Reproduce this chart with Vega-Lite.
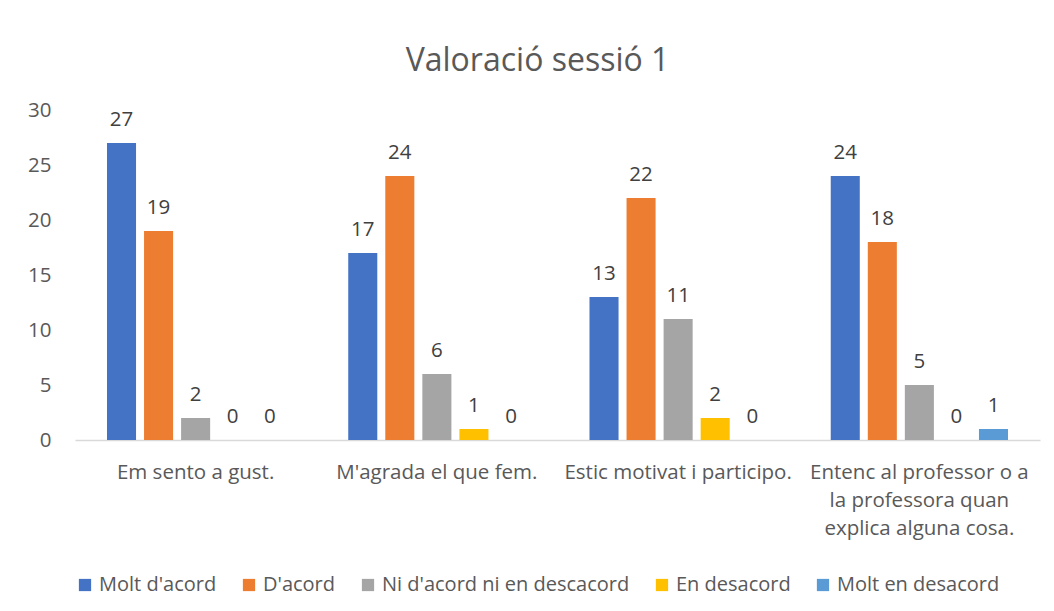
{
  "$schema": "https://vega.github.io/schema/vega-lite/v6.json",
  "width": 965,
  "height": 330,
  "autosize": {"type": "none"},
  "padding": {"left": 75, "top": 110, "right": 14, "bottom": 171},
  "background": "white",
  "config": {"view": {"stroke": null}},
  "title": {
    "text": "Valoració sessió 1",
    "fontSize": 32,
    "font": "Open Sans",
    "fontWeight": "normal",
    "color": "#595959",
    "anchor": "middle",
    "offset": 22,
    "dx": -20
  },
  "data": {
    "values": [
      {"cat": "Em sento a gust.", "serie": "Molt d'acord", "v": 27},
      {"cat": "Em sento a gust.", "serie": "D'acord", "v": 19},
      {"cat": "Em sento a gust.", "serie": "Ni d'acord ni en descacord", "v": 2},
      {"cat": "Em sento a gust.", "serie": "En desacord", "v": 0},
      {"cat": "Em sento a gust.", "serie": "Molt en desacord", "v": 0},
      {"cat": "M'agrada el que fem.", "serie": "Molt d'acord", "v": 17},
      {"cat": "M'agrada el que fem.", "serie": "D'acord", "v": 24},
      {"cat": "M'agrada el que fem.", "serie": "Ni d'acord ni en descacord", "v": 6},
      {"cat": "M'agrada el que fem.", "serie": "En desacord", "v": 1},
      {"cat": "M'agrada el que fem.", "serie": "Molt en desacord", "v": 0},
      {"cat": "Estic motivat i participo.", "serie": "Molt d'acord", "v": 13},
      {"cat": "Estic motivat i participo.", "serie": "D'acord", "v": 22},
      {"cat": "Estic motivat i participo.", "serie": "Ni d'acord ni en descacord", "v": 11},
      {"cat": "Estic motivat i participo.", "serie": "En desacord", "v": 2},
      {"cat": "Estic motivat i participo.", "serie": "Molt en desacord", "v": 0},
      {"cat": "Entenc al professor o a la professora quan explica alguna cosa.", "serie": "Molt d'acord", "v": 24},
      {"cat": "Entenc al professor o a la professora quan explica alguna cosa.", "serie": "D'acord", "v": 18},
      {"cat": "Entenc al professor o a la professora quan explica alguna cosa.", "serie": "Ni d'acord ni en descacord", "v": 5},
      {"cat": "Entenc al professor o a la professora quan explica alguna cosa.", "serie": "En desacord", "v": 0},
      {"cat": "Entenc al professor o a la professora quan explica alguna cosa.", "serie": "Molt en desacord", "v": 1}
    ]
  },
  "encoding": {
    "x": {
      "field": "cat",
      "type": "nominal",
      "sort": null,
      "title": null,
      "scale": {"paddingInner": 0.232, "paddingOuter": 0.116},
      "axis": {
        "labelAngle": 0,
        "labelFont": "Open Sans",
        "labelFontSize": 20.5,
        "labelColor": "#595959",
        "labelPadding": 22,
        "labelLineHeight": 28,
        "labelBaseline": "top",
        "labelLimit": 400,
        "ticks": false,
        "domainColor": "#D9D9D9",
        "domainWidth": 1.5,
        "labelExpr": "datum.value == 'Entenc al professor o a la professora quan explica alguna cosa.' ? ['Entenc al professor o a', 'la professora quan', 'explica alguna cosa.'] : datum.value"
      }
    },
    "xOffset": {
      "field": "serie",
      "type": "nominal",
      "sort": ["Molt d'acord", "D'acord", "Ni d'acord ni en descacord", "En desacord", "Molt en desacord"],
      "scale": {"paddingInner": 0.216, "paddingOuter": 0.108}
    },
    "y": {
      "field": "v",
      "type": "quantitative",
      "title": null,
      "scale": {"domain": [0, 30]},
      "axis": {
        "values": [0, 5, 10, 15, 20, 25, 30],
        "grid": false,
        "domain": false,
        "ticks": false,
        "labelFont": "Open Sans",
        "labelFontSize": 20.5,
        "labelColor": "#595959",
        "labelPadding": 24
      }
    }
  },
  "layer": [
    {
      "mark": {"type": "bar"},
      "encoding": {
        "color": {
          "field": "serie",
          "type": "nominal",
          "title": null,
          "scale": {
            "domain": ["Molt d'acord", "D'acord", "Ni d'acord ni en descacord", "En desacord", "Molt en desacord"],
            "range": ["#4472C4", "#ED7D31", "#A5A5A5", "#FFC000", "#5B9BD5"]
          },
          "legend": {
            "orient": "bottom",
            "direction": "horizontal",
            "symbolType": "square",
            "symbolSize": 150,
            "symbolStrokeWidth": 0,
            "symbolOpacity": 1,
            "labelFont": "Open Sans",
            "labelFontSize": 20,
            "labelColor": "#595959",
            "labelLimit": 400,
            "columnPadding": 22,
            "offset": 36
          }
        }
      }
    },
    {
      "mark": {"type": "text", "baseline": "bottom", "dy": -13, "font": "Open Sans", "fontSize": 20.5, "color": "#404040"},
      "encoding": {
        "text": {"field": "v", "type": "quantitative"}
      }
    }
  ]
}
